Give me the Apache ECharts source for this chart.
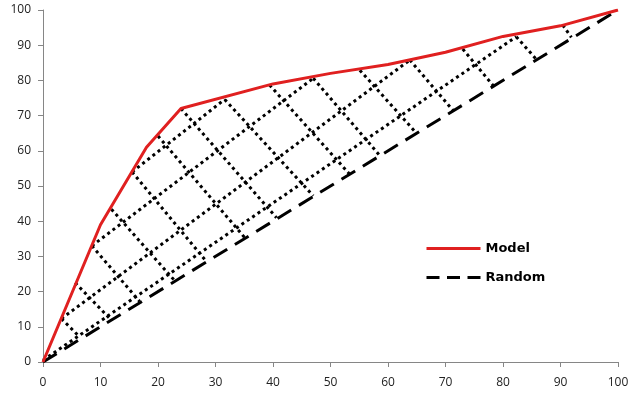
<!DOCTYPE html>
<html>
<head>
<meta charset="utf-8">
<script src="https://cdn.jsdelivr.net/npm/echarts@6/dist/echarts.min.js"></script>
<style>
  html, body { margin: 0; padding: 0; background: #fff; }
  #chart { width: 638px; height: 404px; }
</style>
</head>
<body>
<div id="chart"></div>
<script>
// model curve (cumulative % captured vs % population)
const modelX = [0, 10, 18, 24, 40, 50, 60, 70, 80, 90, 100];
const modelY = [0, 39, 61, 72, 79, 82, 84.5, 88, 92.5, 95.5, 100];
const randomX = [0, 100];
const randomY = [0, 100];

// hatching segments: [x1, y1, x2, y2]
const hatchUp = [
  [0, 0.5, 82.3, 92.4],
  [3.2, 12.3, 63.8, 85.8],
  [8.5, 33, 47, 80.6],
  [15.5, 54, 31.6, 74.6]
];
const hatchDown = [
  [3.2, 12.3, 6.4, 7.1],
  [5.6, 22.5, 11.7, 12.2],
  [8.5, 33, 16.8, 17.2],
  [11.9, 43.4, 22.9, 23.1],
  [15.5, 54, 28.4, 28.6],
  [20, 64.2, 35.1, 35.3],
  [24, 72, 40.6, 41.0],
  [31.6, 74.6, 47, 47.2],
  [39.4, 78.7, 53.3, 53.4],
  [47, 80.6, 58.5, 58.8],
  [55.1, 82.9, 64.9, 65.1],
  [63.8, 85.8, 71.3, 71.5],
  [73, 88.9, 78.3, 78.5],
  [82.3, 92.4, 85.8, 86.0],
  [90.4, 95.7, 91.9, 92.2]
];

const xTicks = [0, 10, 20, 30, 40, 50, 60, 70, 80, 90, 100];

let chart = echarts.init(document.getElementById("chart"));

let hatchSeries = hatchUp.concat(hatchDown).map(function(s) {
  return {
    type: "line",
    data: [[s[0], s[1]], [s[2], s[3]]],
    symbol: "none",
    silent: true,
    lineStyle: { color: "#000", width: 3, type: [3, 3.5], cap: "butt" },
    z: 2
  };
});

let option = {
  animation: false,
  grid: { left: 43, right: 20, top: 10, bottom: 42 },
  legend: {
    data: [
      { name: "Model", lineStyle: { width: 3 } },
      { name: "Random", lineStyle: { width: 3, type: [13, 7.5] } }
    ],
    orient: "vertical",
    left: 420,
    top: 237,
    itemWidth: 54,
    itemHeight: 14,
    itemGap: 16,
    itemStyle: { opacity: 0 },
    textStyle: {
      fontFamily: "DejaVu Sans",
      fontWeight: "bold",
      fontSize: 13,
      color: "#000"
    }
  },
  xAxis: {
    type: "value",
    min: 0,
    max: 100,
    interval: 10,
    splitLine: { show: false },
    axisLine: { lineStyle: { color: "#868686", width: 1 } },
    axisTick: { show: true, length: 5, lineStyle: { color: "#868686" } },
    axisLabel: {
      margin: 15,
      color: "#222",
      fontFamily: "Open Sans",
      fontSize: 12,
      formatter: function(v) { return xTicks.indexOf(v) >= 0 ? String(v) : ""; }
    }
  },
  yAxis: {
    type: "value",
    min: 0,
    max: 100,
    interval: 10,
    splitLine: { show: false },
    axisLine: { show: true, lineStyle: { color: "#868686", width: 1 } },
    axisTick: { show: true, length: 5, lineStyle: { color: "#868686" } },
    axisLabel: {
      margin: 12,
      color: "#222",
      fontFamily: "Open Sans",
      fontSize: 12
    }
  },
  series: hatchSeries.concat([
    {
      name: "Random",
      type: "line",
      data: randomX.map((x, i) => [x, randomY[i]]),
      symbol: "none",
      lineStyle: { color: "#000", width: 3, type: [16, 9] },
      itemStyle: { color: "#000" },
      z: 3
    },
    {
      name: "Model",
      type: "line",
      data: modelX.map((x, i) => [x, modelY[i]]),
      symbol: "none",
      lineStyle: { color: "#E02020", width: 3 },
      itemStyle: { color: "#E02020" },
      z: 4
    }
  ])
};

chart.setOption(option);
</script>
</body>
</html>
